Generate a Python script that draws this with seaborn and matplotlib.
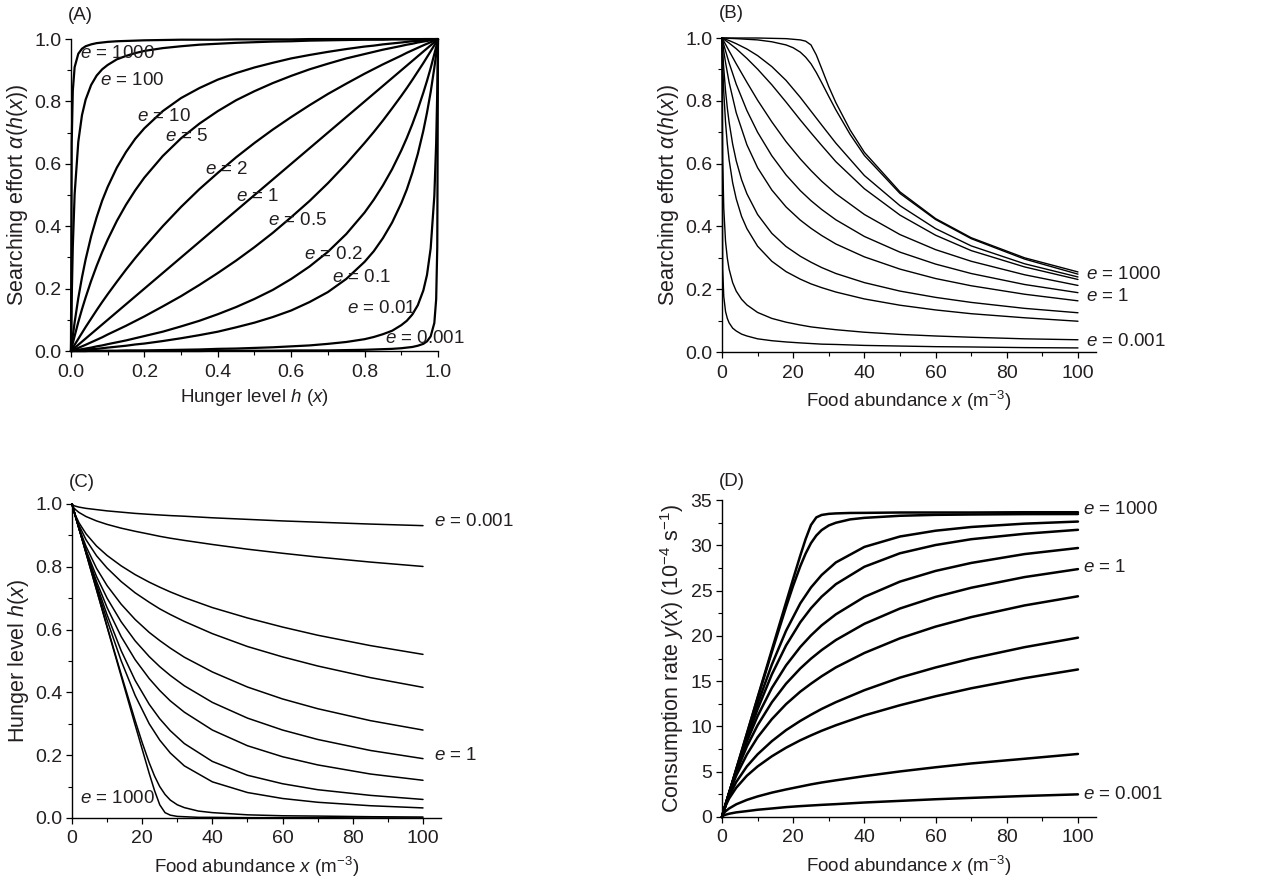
import pandas as pd
import matplotlib
matplotlib.use("Agg")
import matplotlib.pyplot as plt
import seaborn as sns
from matplotlib import font_manager
from matplotlib.ticker import MultipleLocator, FormatStrFormatter

# parameter e of each curve (same order in every panel)
e_values = ["0.001", "0.01", "0.1", "0.2", "0.5", "1", "2", "5", "10", "100", "1000"]

# --- Panel A : searching effort vs hunger level ---
hunger = [0, 0.002, 0.005, 0.01, 0.02, 0.03, 0.04, 0.055, 0.07, 0.085, 0.1, 0.125, 0.15, 0.175,
          0.2, 0.25, 0.3, 0.35, 0.4, 0.45, 0.5, 0.55, 0.6, 0.65, 0.7, 0.75, 0.8, 0.825, 0.85,
          0.875, 0.9, 0.915, 0.93, 0.945, 0.96, 0.97, 0.98, 0.99, 0.995, 0.998, 1.0]
a_0001 = [0, 0, 0, 0, 0, 0, 0, 0, 0, 0, 0, 0, 0, 0, 0, 0, 0, 0, 0.001, 0.001, 0.001, 0.001,
          0.002, 0.002, 0.002, 0.003, 0.004, 0.005, 0.006, 0.007, 0.009, 0.011, 0.013, 0.017,
          0.023, 0.031, 0.047, 0.090, 0.166, 0.333, 1.0]
a_001 = [0, 0, 0, 0, 0, 0, 0, 0.001, 0.001, 0.001, 0.001, 0.001, 0.002, 0.002, 0.002, 0.003,
         0.004, 0.005, 0.007, 0.008, 0.010, 0.012, 0.015, 0.018, 0.023, 0.029, 0.038, 0.045,
         0.054, 0.065, 0.083, 0.097, 0.117, 0.147, 0.194, 0.244, 0.329, 0.497, 0.666, 0.833, 1.0]
a_01 = [0, 0, 0, 0.001, 0.002, 0.003, 0.004, 0.006, 0.007, 0.009, 0.011, 0.014, 0.017, 0.021,
        0.024, 0.032, 0.041, 0.051, 0.062, 0.076, 0.091, 0.109, 0.130, 0.157, 0.189, 0.231,
        0.286, 0.320, 0.362, 0.412, 0.474, 0.518, 0.571, 0.632, 0.706, 0.764, 0.830, 0.908,
        0.952, 0.980, 1.0]
a_02 = [0, 0, 0.001, 0.002, 0.004, 0.006, 0.008, 0.011, 0.015, 0.018, 0.022, 0.028, 0.034,
        0.041, 0.048, 0.062, 0.079, 0.097, 0.118, 0.141, 0.167, 0.196, 0.231, 0.271, 0.318,
        0.375, 0.444, 0.485, 0.531, 0.583, 0.643, 0.683, 0.727, 0.775, 0.828, 0.866, 0.907,
        0.952, 0.975, 0.990, 1.0]
a_05 = [0, 0.001, 0.002, 0.005, 0.010, 0.015, 0.020, 0.028, 0.036, 0.044, 0.053, 0.067, 0.081,
        0.096, 0.111, 0.143, 0.176, 0.212, 0.250, 0.290, 0.333, 0.379, 0.429, 0.481, 0.538,
        0.600, 0.667, 0.702, 0.739, 0.778, 0.818, 0.843, 0.869, 0.896, 0.923, 0.942, 0.961,
        0.980, 0.990, 0.996, 1.0]
a_1 = [0, 0.002, 0.005, 0.01, 0.02, 0.03, 0.04, 0.055, 0.07, 0.085, 0.1, 0.125, 0.15, 0.175,
       0.2, 0.25, 0.3, 0.35, 0.4, 0.45, 0.5, 0.55, 0.6, 0.65, 0.7, 0.75, 0.8, 0.825, 0.85,
       0.875, 0.9, 0.915, 0.93, 0.945, 0.96, 0.97, 0.98, 0.99, 0.995, 0.998, 1.0]
a_2 = [0, 0.004, 0.010, 0.020, 0.039, 0.058, 0.077, 0.104, 0.131, 0.157, 0.182, 0.222, 0.261,
       0.298, 0.333, 0.400, 0.462, 0.519, 0.571, 0.621, 0.667, 0.710, 0.750, 0.788, 0.824,
       0.857, 0.889, 0.904, 0.919, 0.933, 0.947, 0.956, 0.964, 0.972, 0.980, 0.985, 0.990,
       0.995, 0.998, 0.999, 1.0]
a_5 = [0, 0.010, 0.025, 0.048, 0.093, 0.134, 0.172, 0.225, 0.273, 0.317, 0.357, 0.417, 0.469,
       0.515, 0.556, 0.625, 0.682, 0.729, 0.769, 0.804, 0.833, 0.859, 0.882, 0.903, 0.921,
       0.938, 0.952, 0.959, 0.966, 0.972, 0.978, 0.982, 0.985, 0.989, 0.992, 0.994, 0.996,
       0.998, 0.999, 1.0, 1.0]
a_10 = [0, 0.020, 0.048, 0.092, 0.170, 0.236, 0.294, 0.368, 0.429, 0.482, 0.526, 0.588, 0.638,
        0.680, 0.714, 0.769, 0.811, 0.843, 0.870, 0.891, 0.909, 0.924, 0.938, 0.949, 0.959,
        0.968, 0.976, 0.979, 0.983, 0.986, 0.989, 0.991, 0.993, 0.994, 0.996, 0.997, 0.998,
        0.999, 1.0, 1.0, 1.0]
a_100 = [0, 0.167, 0.334, 0.503, 0.671, 0.756, 0.806, 0.853, 0.883, 0.903, 0.917, 0.935, 0.946,
         0.955, 0.962, 0.971, 0.977, 0.982, 0.985, 0.988, 0.990, 0.992, 0.993, 0.995, 0.996,
         0.997, 0.998, 0.998, 0.998, 0.999, 0.999, 0.999, 0.999, 0.999, 1.0, 1.0, 1.0, 1.0,
         1.0, 1.0, 1.0]
a_1000 = [0, 0.667, 0.834, 0.910, 0.953, 0.969, 0.977, 0.983, 0.987, 0.989, 0.991, 0.993, 0.994,
          0.995, 0.996, 0.997, 0.998, 0.998, 0.998, 0.999, 0.999, 0.999, 0.999, 1.0, 1.0, 1.0,
          1.0, 1.0, 1.0, 1.0, 1.0, 1.0, 1.0, 1.0, 1.0, 1.0, 1.0, 1.0, 1.0, 1.0, 1.0]

# --- food abundance grids (B, C, D) ---
food = [0, 0.5, 1, 2, 4, 7, 10, 14, 18, 22, 25, 28, 32, 40, 50, 60, 70, 85, 100]
food_lo = [0, 0.2, 0.5, 1, 1.5, 2, 3, 4, 5.5, 7, 10, 14, 18, 22, 25, 28, 32, 40, 50, 60, 70, 85, 100]
food_hi = [0, 0.5, 1, 2, 4, 7, 10, 14, 18, 20, 22, 23.5, 25, 26.5, 28, 30, 32, 36, 40, 50, 60, 70, 85, 100]

# B : searching effort
b_0001 = [1, 0.265, 0.177, 0.129, 0.107, 0.093, 0.076, 0.067, 0.057, 0.051, 0.042, 0.036, 0.032, 0.029, 0.027, 0.025, 0.024, 0.021, 0.019, 0.017, 0.016, 0.014, 0.013]
b_001 = [1, 0.613, 0.458, 0.352, 0.299, 0.264, 0.221, 0.194, 0.168, 0.150, 0.126, 0.107, 0.095, 0.086, 0.080, 0.076, 0.071, 0.063, 0.056, 0.051, 0.047, 0.042, 0.039]
b_01 = [1, 0.917, 0.829, 0.731, 0.663, 0.612, 0.539, 0.488, 0.432, 0.393, 0.337, 0.289, 0.256, 0.232, 0.217, 0.205, 0.191, 0.169, 0.149, 0.134, 0.122, 0.109, 0.098]
b_02 = [1, 0.957, 0.903, 0.832, 0.777, 0.732, 0.662, 0.609, 0.549, 0.504, 0.438, 0.378, 0.336, 0.305, 0.286, 0.269, 0.250, 0.221, 0.194, 0.174, 0.158, 0.139, 0.125]
b_05 = [1, 0.958, 0.922, 0.859, 0.762, 0.660, 0.587, 0.516, 0.462, 0.420, 0.394, 0.371, 0.344, 0.303, 0.264, 0.234, 0.211, 0.184, 0.163]
b_1 = [1, 0.979, 0.959, 0.921, 0.853, 0.769, 0.700, 0.625, 0.564, 0.514, 0.482, 0.454, 0.421, 0.368, 0.318, 0.280, 0.250, 0.215, 0.189]
b_2 = [1, 0.990, 0.980, 0.959, 0.918, 0.859, 0.802, 0.733, 0.670, 0.615, 0.578, 0.544, 0.504, 0.438, 0.374, 0.326, 0.289, 0.246, 0.212]
b_5 = [1, 0.996, 0.992, 0.984, 0.966, 0.935, 0.901, 0.851, 0.796, 0.739, 0.698, 0.658, 0.606, 0.520, 0.436, 0.372, 0.323, 0.271, 0.231]
b_10 = [1, 0.998, 0.996, 0.992, 0.982, 0.965, 0.944, 0.909, 0.865, 0.811, 0.767, 0.723, 0.665, 0.562, 0.466, 0.393, 0.338, 0.281, 0.239]
b_100 = [1, 1.0, 1.0, 0.999, 0.998, 0.996, 0.994, 0.988, 0.978, 0.969, 0.955, 0.939, 0.918, 0.890, 0.858, 0.814, 0.771, 0.693, 0.626, 0.505, 0.422, 0.361, 0.296, 0.248]
b_1000 = [1, 1.0, 1.0, 1.0, 1.0, 1.0, 1.0, 0.999, 0.998, 0.996, 0.994, 0.990, 0.978, 0.946, 0.903, 0.845, 0.794, 0.707, 0.636, 0.510, 0.425, 0.364, 0.300, 0.255]

# C : hunger level
c_0001 = [1.0, 0.995, 0.993, 0.990, 0.986, 0.982, 0.978, 0.974, 0.970, 0.967, 0.965, 0.963, 0.961, 0.956, 0.951, 0.946, 0.942, 0.936, 0.931]
c_001 = [1.0, 0.988, 0.982, 0.973, 0.960, 0.946, 0.935, 0.923, 0.913, 0.904, 0.897, 0.891, 0.884, 0.871, 0.856, 0.843, 0.831, 0.815, 0.801]
c_01 = [1.0, 0.980, 0.964, 0.940, 0.905, 0.866, 0.836, 0.803, 0.775, 0.751, 0.735, 0.720, 0.702, 0.670, 0.637, 0.608, 0.582, 0.549, 0.521]
c_02 = [1.0, 0.979, 0.961, 0.932, 0.886, 0.835, 0.796, 0.753, 0.717, 0.687, 0.666, 0.648, 0.626, 0.587, 0.546, 0.513, 0.484, 0.447, 0.416]
c_05 = [1.0, 0.979, 0.959, 0.924, 0.865, 0.795, 0.740, 0.681, 0.632, 0.591, 0.565, 0.541, 0.512, 0.465, 0.417, 0.379, 0.348, 0.310, 0.280]
c_1 = [1.0, 0.979, 0.959, 0.921, 0.853, 0.769, 0.700, 0.625, 0.564, 0.514, 0.482, 0.454, 0.421, 0.368, 0.318, 0.280, 0.250, 0.215, 0.189]
c_2 = [1.0, 0.980, 0.960, 0.921, 0.849, 0.753, 0.670, 0.578, 0.504, 0.444, 0.406, 0.373, 0.337, 0.280, 0.230, 0.195, 0.169, 0.140, 0.120]
c_5 = [1.0, 0.981, 0.961, 0.923, 0.849, 0.743, 0.647, 0.533, 0.438, 0.362, 0.316, 0.278, 0.237, 0.180, 0.136, 0.109, 0.090, 0.072, 0.059]
c_10 = [1.0, 0.981, 0.961, 0.922, 0.846, 0.735, 0.630, 0.501, 0.390, 0.300, 0.248, 0.207, 0.166, 0.115, 0.081, 0.062, 0.050, 0.039, 0.032]
c_100 = [1.0, 0.980, 0.961, 0.922, 0.844, 0.727, 0.610, 0.458, 0.310, 0.240, 0.176, 0.134, 0.100, 0.075, 0.057, 0.042, 0.033, 0.022, 0.017, 0.010, 0.007, 0.006, 0.004, 0.003]
c_1000 = [1.0, 0.980, 0.961, 0.922, 0.843, 0.726, 0.608, 0.452, 0.296, 0.219, 0.142, 0.088, 0.042, 0.017, 0.009, 0.005, 0.004, 0.002, 0.002, 0.001, 0.001, 0.001, 0.0, 0.0]

# D : consumption rate (1e-4 s^-1)
d_0001 = [0, 0.18, 0.25, 0.36, 0.51, 0.65, 0.80, 0.94, 1.09, 1.20, 1.27, 1.34, 1.42, 1.60, 1.78, 1.96, 2.11, 2.32, 2.50]
d_001 = [0, 0.42, 0.63, 0.94, 1.40, 1.89, 2.27, 2.69, 3.04, 3.36, 3.60, 3.81, 4.05, 4.51, 5.03, 5.49, 5.91, 6.43, 6.96]
d_01 = [0, 0.68, 1.22, 2.04, 3.23, 4.56, 5.58, 6.70, 7.65, 8.47, 9.01, 9.52, 10.13, 11.22, 12.34, 13.33, 14.21, 15.33, 16.29]
d_02 = [0, 0.71, 1.32, 2.31, 3.86, 5.59, 6.92, 8.37, 9.59, 10.61, 11.29, 11.93, 12.68, 14.00, 15.39, 16.51, 17.49, 18.75, 19.80]
d_05 = [0, 0.71, 1.39, 2.57, 4.57, 6.91, 8.80, 10.80, 12.46, 13.84, 14.72, 15.54, 16.52, 18.11, 19.73, 21.02, 22.07, 23.36, 24.37]
d_1 = [0, 0.71, 1.38, 2.67, 4.96, 7.80, 10.13, 12.66, 14.72, 16.40, 17.48, 18.43, 19.54, 21.33, 23.02, 24.30, 25.31, 26.49, 27.37]
d_2 = [0, 0.68, 1.35, 2.67, 5.10, 8.34, 11.14, 14.24, 16.74, 18.77, 20.05, 21.16, 22.38, 24.30, 25.99, 27.17, 28.05, 29.03, 29.70]
d_5 = [0, 0.64, 1.31, 2.59, 5.09, 8.66, 11.90, 15.74, 18.94, 21.50, 23.05, 24.33, 25.71, 27.63, 29.12, 30.03, 30.67, 31.27, 31.71]
d_10 = [0, 0.64, 1.31, 2.63, 5.19, 8.93, 12.47, 16.82, 20.56, 23.59, 25.34, 26.72, 28.11, 29.82, 30.97, 31.61, 32.02, 32.39, 32.62]
d_100 = [0, 0.67, 1.31, 2.62, 5.24, 9.17, 13.10, 18.21, 23.18, 25.54, 27.69, 29.09, 30.24, 31.08, 31.68, 32.19, 32.49, 32.86, 33.03, 33.26, 33.36, 33.40, 33.44, 33.45]
d_1000 = [0, 0.67, 1.31, 2.62, 5.28, 9.22, 13.19, 18.44, 23.69, 26.30, 28.87, 30.69, 32.24, 33.08, 33.35, 33.47, 33.52, 33.57, 33.58, 33.62, 33.62, 33.62, 33.65, 33.65]


def long_form(grids, series):
    # une ligne par point, colonne "e" pour séparer les courbes
    frames = [pd.DataFrame({"x": g, "y": vals, "e": lab})
              for lab, g, vals in zip(e_values, grids, series)]
    return pd.concat(frames, ignore_index=True)


df_a = long_form([hunger] * 11,
                 [a_0001, a_001, a_01, a_02, a_05, a_1, a_2, a_5, a_10, a_100, a_1000])
df_b = long_form([food_lo] * 4 + [food] * 5 + [food_hi] * 2,
                 [b_0001, b_001, b_01, b_02, b_05, b_1, b_2, b_5, b_10, b_100, b_1000])
df_c = long_form([food] * 9 + [food_hi] * 2,
                 [c_0001, c_001, c_01, c_02, c_05, c_1, c_2, c_5, c_10, c_100, c_1000])
df_d = long_form([food] * 9 + [food_hi] * 2,
                 [d_0001, d_001, d_01, d_02, d_05, d_1, d_2, d_5, d_10, d_100, d_1000])

# --- style ---
sns.set_theme(style="ticks")
names = {f.name for f in font_manager.fontManager.ttflist}
base = "Liberation Sans" if "Liberation Sans" in names else "DejaVu Sans"
plt.rcParams["font.family"] = [base, "DejaVu Sans"]
plt.rcParams["mathtext.fontset"] = "custom"
plt.rcParams["mathtext.rm"] = base
plt.rcParams["mathtext.it"] = base + ":italic"
plt.rcParams["mathtext.bf"] = base + ":bold"

FS_TICK = 14
FS_X = 13.5
FS_Y = 15.5
FS_TXT = 13.5
TXT = "#231f20"

fig = plt.figure(figsize=(12.74, 8.82), dpi=100)
ax_a = fig.add_axes([0.0557, 0.6020, 0.2881, 0.3537])
ax_b = fig.add_axes([0.5667, 0.6009, 0.2934, 0.3560])
ax_c = fig.add_axes([0.0565, 0.0726, 0.2893, 0.3560])
ax_d = fig.add_axes([0.5667, 0.0737, 0.2934, 0.3594])


def draw(ax, df, lw):
    sns.lineplot(data=df, x="x", y="y", units="e", estimator=None, color="black",
                 linewidth=lw, sort=False, legend=False, ax=ax, clip_on=False)


def style(ax, xlim, ylim, xmaj, xmin, ymaj, ymin, xfmt, yfmt, xlabel, ylabel):
    ax.set_xlim(*xlim)
    ax.set_ylim(*ylim)
    sns.despine(ax=ax)
    for s in ("left", "bottom"):
        ax.spines[s].set_linewidth(1.0)
        ax.spines[s].set_color("black")
    ax.xaxis.set_major_locator(MultipleLocator(xmaj))
    ax.xaxis.set_minor_locator(MultipleLocator(xmin))
    ax.yaxis.set_major_locator(MultipleLocator(ymaj))
    ax.yaxis.set_minor_locator(MultipleLocator(ymin))
    ax.xaxis.set_major_formatter(FormatStrFormatter(xfmt))
    ax.yaxis.set_major_formatter(FormatStrFormatter(yfmt))
    ax.tick_params(which="major", direction="out", length=4, width=0.9,
                   labelsize=FS_TICK, colors="black", labelcolor=TXT)
    ax.tick_params(axis="x", which="major", pad=5)
    ax.tick_params(axis="y", which="major", pad=3)
    ax.tick_params(which="minor", direction="out", length=3, width=0.8, colors="black")
    ax.set_xlabel(xlabel, fontsize=FS_X, color=TXT, labelpad=5)
    ax.set_ylabel(ylabel, fontsize=FS_Y, color=TXT, labelpad=3)


draw(ax_a, df_a, 1.6)
draw(ax_b, df_b, 1.0)
draw(ax_c, df_c, 1.1)
draw(ax_d, df_d, 1.8)

style(ax_a, (0, 1.0), (0, 1.0), 0.2, 0.1, 0.2, 0.1, "%.1f", "%.1f",
      r"Hunger level $h$ ($x$)", r"Searching effort $\alpha$($h$($x$))")
style(ax_b, (0, 105), (0, 1.0), 20, 10, 0.2, 0.1, "%d", "%.1f",
      r"Food abundance $x$ (m$^{-3}$)", r"Searching effort $\alpha$($h$($x$))")
style(ax_c, (0, 105), (0, 1.0), 20, 10, 0.2, 0.1, "%d", "%.1f",
      r"Food abundance $x$ (m$^{-3}$)", r"Hunger level $h$($x$)")
style(ax_d, (0, 105), (0, 35), 20, 10, 5, 2.5, "%d", "%d",
      r"Food abundance $x$ (m$^{-3}$)", r"Consumption rate $y$($x$) (10$^{-4}$ s$^{-1}$)")

# curve labels
labels_a = [("1000", 0.025, 0.955), ("100", 0.079, 0.866), ("10", 0.179, 0.751),
            ("5", 0.256, 0.687), ("2", 0.365, 0.582), ("1", 0.45, 0.495),
            ("0.5", 0.538, 0.418), ("0.2", 0.635, 0.308), ("0.1", 0.711, 0.236),
            ("0.01", 0.752, 0.137), ("0.001", 0.856, 0.041)]
labels_b = [("1000", 102.2, 0.246), ("1", 102.2, 0.177), ("0.001", 102.2, 0.034)]
labels_c = [("0.001", 103, 0.945), ("1", 103, 0.2), ("1000", 2.2, 0.062)]
labels_d = [("1000", 101.4, 33.9), ("1", 101.4, 27.6), ("0.001", 101.4, 2.5)]

for ax, labs in ((ax_a, labels_a), (ax_b, labels_b), (ax_c, labels_c), (ax_d, labels_d)):
    for txt, x, y in labs:
        ax.text(x, y, r"$e$ = " + txt, fontsize=FS_TXT, color=TXT, ha="left", va="center")

# panel letters
ax_a.text(-0.008, 1.077, "(A)", fontsize=FS_TXT, color=TXT, ha="left", va="center")
ax_b.text(-1.0, 1.077, "(B)", fontsize=FS_TXT, color=TXT, ha="left", va="center")
ax_c.text(-1.0, 1.067, "(C)", fontsize=FS_TXT, color=TXT, ha="left", va="center")
ax_d.text(-1.0, 37.0, "(D)", fontsize=FS_TXT, color=TXT, ha="left", va="center")

fig.savefig("out.png", dpi=100)
